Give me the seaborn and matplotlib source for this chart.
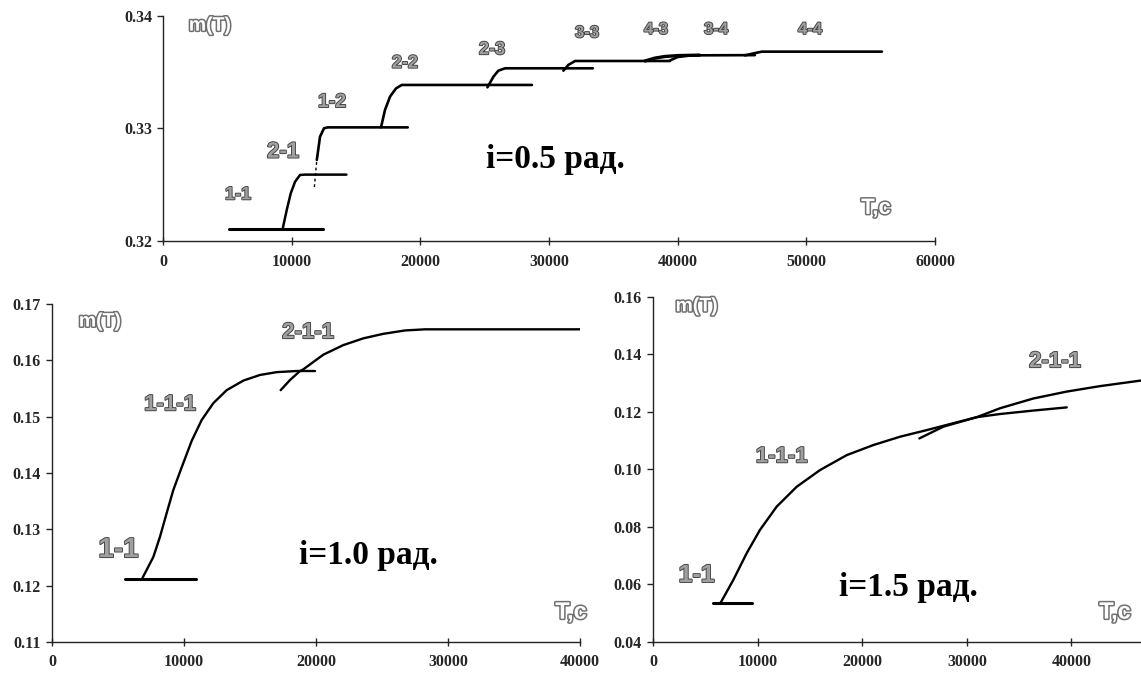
import matplotlib
matplotlib.use("Agg")
import matplotlib.pyplot as plt
import matplotlib.patheffects as pe
import seaborn as sns

# ---------------- data: top panel (i = 0.5 rad) ----------------
t11_x = [5100, 12400]
t11_y = [0.3211, 0.3211]
t21_x = [9300, 9614, 9925, 10259, 10647, 11000, 14250]
t21_y = [0.3211, 0.32276, 0.32424, 0.32527, 0.32587, 0.3259, 0.3259]
t12d_x = [11760, 11950]
t12d_y = [0.3248, 0.3272]
t12_x = [11950, 12200, 12510, 12800, 19020]
t12_y = [0.3272, 0.32927, 0.33002, 0.3301, 0.3301]
t22_x = [16940, 17250, 17640, 18110, 18550, 28670]
t22_y = [0.3301, 0.33165, 0.33283, 0.33357, 0.33387, 0.33387]
t23_x = [25210, 25680, 26060, 26580, 33400]
t23_y = [0.33366, 0.33461, 0.33514, 0.33535, 0.33535]
t33_x = [31115, 31500, 32020, 39400]
t33_y = [0.33514, 0.33565, 0.3360, 0.3360]
t43_x = [37460, 38200, 39000, 40000, 41700]
t43_y = [0.3360, 0.33625, 0.3364, 0.33648, 0.33652]
t34_x = [39400, 40000, 41000, 46000]
t34_y = [0.33605, 0.33635, 0.3365, 0.33652]
t44_x = [45230, 45800, 46530, 55870]
t44_y = [0.3365, 0.33665, 0.33683, 0.33683]

# ---------------- data: bottom-left (i = 1.0 rad) ----------------
l11_x = [5530, 10900]
l11_y = [0.1211, 0.1211]
l111_x = [6795, 7677, 8182, 8700, 9192, 9823, 10581, 11338, 12222, 13232,
          14495, 15758, 17020, 18535, 19924]
l111_y = [0.1211, 0.1251, 0.1287, 0.1330, 0.1370, 0.1410, 0.1457, 0.1494,
          0.1524, 0.1547, 0.1564, 0.1574, 0.1579, 0.1581, 0.1581]
l211_x = [17323, 18030, 18788, 19040, 20555, 22070, 23586, 25100, 26742,
          28258, 40000]
l211_y = [0.1547, 0.1565, 0.1581, 0.1584, 0.1610, 0.1627, 0.1639, 0.1647,
          0.1653, 0.1655, 0.1655]

# ---------------- data: bottom-right (i = 1.5 rad) ----------------
r11_x = [5707, 9436]
r11_y = [0.0537, 0.0537]
r111_x = [6472, 7680, 8958, 10229, 11826, 13738, 15966, 18518, 21062,
          23614, 26166, 28394, 30950, 33174, 36360, 39550]
r111_y = [0.0537, 0.0616, 0.0709, 0.0790, 0.0871, 0.0940, 0.0998, 0.1050,
          0.1085, 0.1114, 0.1137, 0.1158, 0.1182, 0.1193, 0.1205, 0.1216]
r211_x = [25460, 27755, 30950, 33174, 36360, 39550, 42735, 46560, 48500]
r211_y = [0.1108, 0.1149, 0.1182, 0.1213, 0.1247, 0.1271, 0.1290, 0.1309,
          0.1316]

top_yticks = [0.32, 0.33, 0.34]
top_xticks = [0, 10000, 20000, 30000, 40000, 50000, 60000]
bl_yticks = [0.11, 0.12, 0.13, 0.14, 0.15, 0.16, 0.17]
bl_xticks = [0, 10000, 20000, 30000, 40000]
br_yticks = [0.04, 0.06, 0.08, 0.10, 0.12, 0.14, 0.16]
br_xticks = [0, 10000, 20000, 30000, 40000]

sns.set_style("ticks")
plt.rcParams["font.family"] = ["Liberation Serif", "DejaVu Serif"]

fig = plt.figure(figsize=(11.41, 6.77), dpi=100)
ax_t = fig.add_axes([0.1429, 0.644, 0.6766, 0.3324])
ax_l = fig.add_axes([0.0456, 0.0517, 0.4627, 0.4993])
ax_r = fig.add_axes([0.5723, 0.0517, 0.4584, 0.5096])


def seg(ax, xs, ys, lw=1.8, ls="-"):
    sns.lineplot(x=xs, y=ys, ax=ax, color="black", lw=lw, linestyle=ls,
                 estimator=None, sort=False, legend=False)


for xs, ys, lw in [(t11_x, t11_y, 2.2), (t21_x, t21_y, 1.8), (t12_x, t12_y, 1.9),
                   (t22_x, t22_y, 1.9), (t23_x, t23_y, 1.9), (t33_x, t33_y, 1.9),
                   (t43_x, t43_y, 2.4), (t34_x, t34_y, 1.9), (t44_x, t44_y, 1.9)]:
    seg(ax_t, xs, ys, lw)
seg(ax_t, t12d_x, t12d_y, 1.0, (0, (2, 2)))

seg(ax_l, l11_x, l11_y, 2.2)
seg(ax_l, l111_x, l111_y, 1.7)
seg(ax_l, l211_x, l211_y, 1.7)

seg(ax_r, r11_x, r11_y, 2.2)
seg(ax_r, r111_x, r111_y, 1.7)
seg(ax_r, r211_x, r211_y, 1.7)


def style(ax, xlim, ylim, xt, yt, yfmt):
    ax.set_xlim(*xlim)
    ax.set_ylim(*ylim)
    ax.set_xticks(xt)
    ax.set_yticks(yt)
    ax.set_xticklabels([str(v) for v in xt])
    ax.set_yticklabels([yfmt.format(v) for v in yt])
    for s in ["top", "right"]:
        ax.spines[s].set_visible(False)
    for s in ["left", "bottom"]:
        ax.spines[s].set_linewidth(1.0)
        ax.spines[s].set_color("#222222")
    ax.tick_params(axis="y", direction="out", length=4, width=1, pad=4,
                   labelsize=11.5)
    ax.tick_params(axis="x", direction="inout", length=6, width=1, pad=6,
                   labelsize=11.5)
    for lab in ax.get_xticklabels() + ax.get_yticklabels():
        lab.set_fontweight("bold")
        lab.set_family(["Liberation Serif", "DejaVu Serif"])
    ax.set_xlabel("")
    ax.set_ylabel("")


style(ax_t, (0, 60000), (0.32, 0.34), top_xticks, top_yticks, "{:.2f}")
style(ax_l, (0, 40000), (0.11, 0.17), bl_xticks, bl_yticks, "{:.2f}")
style(ax_r, (0, 50000), (0.04, 0.16), br_xticks, br_yticks, "{:.2f}")

SANS = ["Liberation Sans", "DejaVu Sans"]


def lab(ax, x, y, s, size, fill="#a0a0a0", edge="#404040", lw=1.3):
    ax.text(x, y, s, fontsize=size, fontweight="bold", family=SANS,
            color=fill, ha="center", va="center",
            path_effects=[pe.withStroke(linewidth=lw, foreground=edge)])


def hollow(ax, x, y, s, size):
    ax.text(x, y, s, fontsize=size, fontweight="bold", family=SANS,
            color="white", ha="center", va="center",
            path_effects=[pe.withStroke(linewidth=2.2, foreground="#707070")])


def big(ax, x, y, s):
    ax.text(x, y, s, fontsize=24, fontweight="bold",
            family=["Liberation Serif", "DejaVu Serif"], color="black",
            ha="center", va="center")


# top labels
hollow(ax_t, 3650, 0.3391, "m(T)", 14)
lab(ax_t, 5830, 0.3241, "1-1", 13)
lab(ax_t, 9330, 0.3279, "2-1", 16)
lab(ax_t, 13135, 0.3323, "1-2", 14)
lab(ax_t, 18800, 0.3358, "2-2", 13)
lab(ax_t, 25570, 0.3370, "2-3", 13)
lab(ax_t, 32950, 0.3385, "3-3", 12)
lab(ax_t, 38310, 0.3388, "4-3", 12)
lab(ax_t, 42980, 0.3388, "3-4", 12)
lab(ax_t, 50280, 0.3388, "4-4", 12)
big(ax_t, 30470, 0.3272, "i=0.5 рад.")
hollow(ax_t, 55410, 0.3229, "T,c", 16)

# bottom-left labels
hollow(ax_l, 3636, 0.1668, "m(T)", 14)
lab(ax_l, 5030, 0.1263, "1-1", 20)
lab(ax_l, 8940, 0.1521, "1-1-1", 16)
lab(ax_l, 19400, 0.1649, "2-1-1", 16)
big(ax_l, 23940, 0.1254, "i=1.0 рад.")
hollow(ax_l, 39320, 0.1153, "T,c", 17)

# bottom-right labels
hollow(ax_r, 4180, 0.1566, "m(T)", 14)
lab(ax_r, 4180, 0.0633, "1-1", 18)
lab(ax_r, 12300, 0.1044, "1-1-1", 16)
lab(ax_r, 38430, 0.1375, "2-1-1", 16)
big(ax_r, 24380, 0.0588, "i=1.5 рад.")
hollow(ax_r, 44170, 0.0504, "T,c", 17)

fig.savefig("out.png", dpi=100)
